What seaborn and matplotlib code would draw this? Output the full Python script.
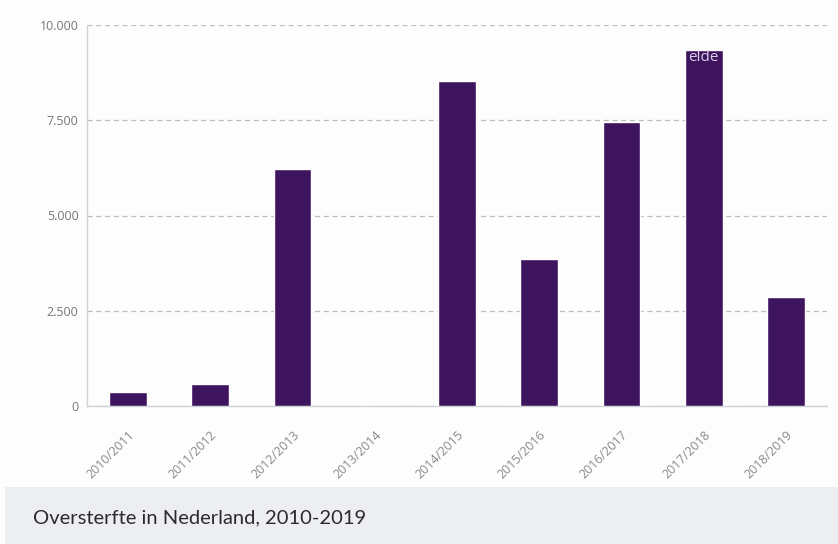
import matplotlib
matplotlib.use("Agg")
import matplotlib.pyplot as plt
import seaborn as sns
import pandas as pd
from matplotlib.patches import Rectangle
from matplotlib.ticker import FuncFormatter, FixedLocator

# Data
seasons = ["2010/2011", "2011/2012", "2012/2013", "2013/2014", "2014/2015",
           "2015/2016", "2016/2017", "2017/2018", "2018/2019"]
excess_deaths = [380, 570, 6220, 0, 8530, 3860, 7450, 9340, 2850]
y_ticks = [0, 2500, 5000, 7500, 10000]

df = pd.DataFrame({"season": seasons, "deaths": excess_deaths})

sns.set_style("white")
plt.rcParams["font.family"] = ["Open Sans", "DejaVu Sans"]

fig = plt.figure(figsize=(8.38, 5.44), dpi=100)
fig.patch.set_facecolor("#fdfdfd")
ax = fig.add_axes([87 / 838, 1 - 406 / 544, (827 - 87) / 838, (406 - 25) / 544])
ax.set_facecolor("#fdfdfd")

sns.barplot(data=df, x="season", y="deaths", color="#3f145e", width=0.46,
            saturation=1, ax=ax, zorder=3)

# Gridlines and y axis
ax.set_ylim(0, 10000)
ax.set_yticks(y_ticks)
ax.yaxis.set_major_formatter(FuncFormatter(lambda v, p: f"{int(v):,}".replace(",", ".")))
ax.grid(axis="y", color="#bdbdbd", linestyle=(0, (4, 3)), linewidth=0.9, zorder=0)
ax.set_xlim(-0.5, len(seasons) - 0.5)

for side in ["top", "right"]:
    ax.spines[side].set_visible(False)
for side in ["left", "bottom"]:
    ax.spines[side].set_color("#cfd3d8")
    ax.spines[side].set_linewidth(1)

ax.tick_params(axis="y", length=0, pad=6, labelsize=9, labelcolor="#777777")
ax.tick_params(axis="x", length=0, pad=16, labelsize=9, labelcolor="#8a8a8a")
ax.xaxis.set_minor_locator(FixedLocator([i - 0.5 for i in range(len(seasons) + 1)]))
ax.tick_params(axis="x", which="minor", length=9, color="#cfd3d8", width=1)
plt.setp(ax.get_xticklabels(), rotation=45, ha="right", rotation_mode="anchor")
ax.set_xlabel("")
ax.set_ylabel("")

# cut-off tooltip text on the 2017/2018 bar
ax.text(7, 9150, "elde", color="#d9cde8", fontsize=11, ha="center", va="center", zorder=4)

# caption band
fig.patches.append(Rectangle((5 / 838, 0), 1, 57 / 544, transform=fig.transFigure,
                             facecolor="#eceef1", edgecolor="none", zorder=0))
fig.text(33 / 838, 26 / 544, "Oversterfte in Nederland, 2010-2019", fontsize=14.5,
         color="#2b2b2b", va="center", ha="left", family=["Lato", "DejaVu Sans"])

fig.savefig("out.png", dpi=100, facecolor=fig.get_facecolor())
